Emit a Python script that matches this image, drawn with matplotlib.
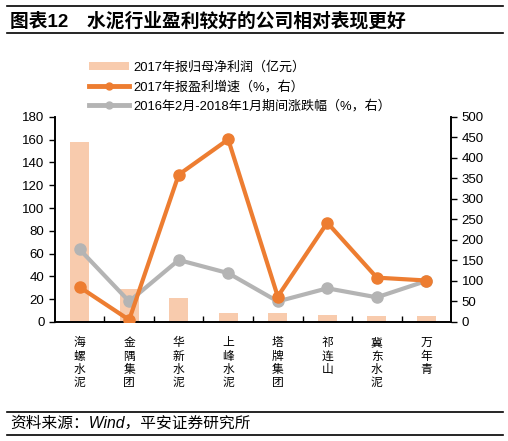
import matplotlib.pyplot as plt
import numpy as np
from matplotlib.lines import Line2D
from matplotlib.patches import Patch

plt.rcParams['font.family'] = ['Liberation Sans', 'Noto Sans CJK SC', 'DejaVu Sans']

# data
companies = ['海螺水泥', '金隅集团', '华新水泥', '上峰水泥', '塔牌集团', '祁连山', '冀东水泥', '万年青']
net_profit = [158, 29, 21, 7.5, 7.5, 6, 5, 5]           # 2017年报归母净利润（亿元）
profit_growth = [85, 5, 359, 445, 62, 242, 108, 101]    # 2017年报盈利增速（%，右）
price_change = [177, 50, 151, 119, 50, 82, 60, 100]     # 2016年2月-2018年1月期间涨跌幅（%，右）

BAR_C = '#F8CBAD'
ORANGE = '#ED7D31'
GRAY = '#B4B4B4'

fig = plt.figure(figsize=(5.08, 4.41), dpi=100)
ax = fig.add_axes([0.108, 0.270, 0.780, 0.465])
ax2 = ax.twinx()

x = np.arange(len(companies))
ax.bar(x, net_profit, width=0.39, color=BAR_C, zorder=1)
ax2.plot(x, profit_growth, color=ORANGE, lw=3, marker='o', ms=8, zorder=3)
ax2.plot(x, price_change, color=GRAY, lw=3, marker='o', ms=8, zorder=2)

ax.set_xlim(-0.5, len(companies) - 0.5)
ax.set_ylim(0, 180)
ax.set_yticks(np.arange(0, 181, 20))
ax2.set_ylim(0, 500)
ax2.set_yticks(np.arange(0, 501, 50))

ax.set_xticks(x)
ax.set_xticklabels(['\n'.join(c) for c in companies], fontsize=8.5, linespacing=1.15, va='top')
ax.tick_params(axis='x', length=0, pad=11)
ax.set_xticks(np.arange(0.5, len(companies) - 1, 1), minor=True)
ax.tick_params(axis='x', which='minor', direction='in', length=4, width=1)
ax.tick_params(axis='y', labelsize=9.5, length=4, width=1)
ax2.tick_params(axis='y', labelsize=9.5, length=4, width=1)

for a in (ax, ax2):
    a.spines['top'].set_visible(False)
    for s in ('left', 'right', 'bottom'):
        a.spines[s].set_linewidth(1.2)

handles = [
    Patch(facecolor=BAR_C, edgecolor='none'),
    Line2D([], [], color=ORANGE, lw=3.5, marker='o', ms=5),
    Line2D([], [], color=GRAY, lw=3.5, marker='o', ms=5),
]
labels = ['2017年报归母净利润（亿元）', '2017年报盈利增速（%，右）', '2016年2月-2018年1月期间涨跌幅（%，右）']
fig.legend(handles, labels, loc='upper left', bbox_to_anchor=(0.153, 0.888), frameon=False,
           fontsize=9.4, handlelength=3.0, handleheight=0.5, labelspacing=0.5, handletextpad=0.4)

# title with rules
fig.add_artist(Line2D([0.014, 0.99], [0.987, 0.987], color='black', lw=1.2))
fig.text(0.02, 0.951, '图表12　水泥行业盈利较好的公司相对表现更好', fontsize=13.5, fontweight='bold', va='center')
fig.add_artist(Line2D([0.014, 0.99], [0.925, 0.925], color='black', lw=1.2))

# source note with rules
fig.add_artist(Line2D([0.014, 0.99], [0.066, 0.066], color='black', lw=1.2))
fig.text(0.02, 0.040, '资料来源：Wind，平安证券研究所', fontsize=11.3, style='italic', va='center')
fig.add_artist(Line2D([0.014, 0.99], [0.013, 0.013], color='black', lw=1.2))

plt.savefig('out.png', dpi=100)
